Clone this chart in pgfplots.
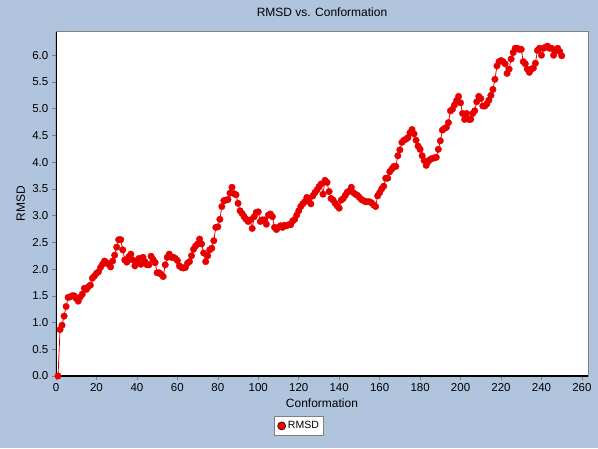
\documentclass[border=0pt]{standalone}
\usepackage{pgfplots}
\pgfplotsset{compat=1.18}
\usepackage{pgfplotstable}
\usepackage{fontspec}
\setmainfont{Liberation Sans}
\definecolor{bgblue}{RGB}{176,196,222}
\definecolor{plotred}{RGB}{232,0,0}
\pgfplotstableread{
x y
1 0.00
2 0.87
3 0.95
4 1.12
5 1.30
6 1.47
7 1.48
8 1.50
9 1.50
10 1.45
11 1.40
12 1.48
13 1.53
14 1.64
15 1.62
16 1.67
17 1.70
18 1.83
19 1.87
20 1.92
21 1.95
22 2.03
23 2.09
24 2.15
25 2.12
26 2.09
27 2.04
28 2.15
29 2.26
30 2.41
31 2.55
32 2.55
33 2.36
34 2.17
35 2.13
36 2.23
37 2.28
38 2.17
39 2.06
40 2.14
41 2.20
42 2.09
43 2.22
44 2.14
45 2.08
46 2.08
47 2.24
48 2.18
49 2.12
50 1.93
51 1.93
52 1.90
53 1.86
54 2.08
55 2.22
56 2.28
57 2.22
58 2.22
59 2.20
60 2.16
61 2.06
62 2.03
63 2.02
64 2.03
65 2.11
66 2.14
67 2.25
68 2.37
69 2.43
70 2.47
71 2.56
72 2.47
73 2.30
74 2.14
75 2.25
76 2.36
77 2.39
78 2.53
79 2.78
80 2.79
81 2.93
82 3.17
83 3.28
84 3.29
85 3.30
86 3.42
87 3.53
88 3.41
89 3.39
90 3.23
91 3.09
92 3.04
93 2.98
94 2.93
95 2.89
96 2.92
97 2.76
98 2.98
99 3.06
100 3.07
101 2.89
102 2.92
103 2.92
104 2.84
105 3.01
106 3.03
107 2.98
108 2.78
109 2.74
110 2.78
111 2.81
112 2.78
113 2.82
114 2.81
115 2.83
116 2.83
117 2.90
118 2.93
119 3.01
120 3.09
121 3.17
122 3.22
123 3.26
124 3.34
125 3.32
126 3.22
127 3.37
128 3.43
129 3.48
130 3.54
131 3.59
132 3.40
133 3.66
134 3.62
135 3.45
136 3.32
137 3.29
138 3.23
139 3.18
140 3.14
141 3.29
142 3.32
143 3.38
144 3.44
145 3.46
146 3.53
147 3.43
148 3.40
149 3.38
150 3.34
151 3.30
152 3.28
153 3.26
154 3.26
155 3.26
156 3.24
157 3.20
158 3.17
159 3.37
160 3.43
161 3.50
162 3.55
163 3.70
164 3.70
165 3.82
166 3.87
167 3.92
168 3.92
169 4.12
170 4.23
171 4.37
172 4.41
173 4.43
174 4.46
175 4.55
176 4.61
177 4.53
178 4.41
179 4.30
180 4.24
181 4.12
182 4.03
183 3.94
184 4.01
185 4.05
186 4.07
187 4.08
188 4.09
189 4.24
190 4.40
191 4.60
192 4.63
193 4.65
194 4.74
195 4.96
196 4.99
197 5.07
198 5.15
199 5.23
200 5.11
201 4.91
202 4.80
203 4.91
204 4.80
205 4.80
206 4.91
207 4.96
208 5.13
209 5.23
210 5.19
211 5.05
212 5.05
213 5.09
214 5.16
215 5.25
216 5.36
217 5.55
218 5.80
219 5.88
220 5.90
221 5.88
222 5.84
223 5.66
224 5.74
225 5.93
226 6.05
227 6.13
228 6.13
229 6.11
230 6.11
231 5.88
232 5.84
233 5.74
234 5.68
235 5.74
236 5.76
237 5.85
238 6.09
239 6.13
240 6.00
241 6.13
242 6.15
243 6.17
244 6.13
245 6.13
246 6.00
247 6.09
248 6.13
249 6.07
250 5.99
}\rmsddata
\begin{document}
\begin{tikzpicture}
\path[use as bounding box, fill=bgblue] (0,0) rectangle (598pt,448pt);
\begin{axis}[
  at={(56pt,72pt)}, anchor=south west,
  width=532pt, height=344.3pt, scale only axis,
  xmin=0, xmax=263, ymin=0, ymax=6.44,
  xtick={0,20,...,260},
  ytick={0,0.5,...,6.0},
  xtick pos=bottom, ytick pos=left,
  tick align=outside,
  major tick length=4pt,
  every tick/.style={gray, line width=0.6pt},
  axis background/.style={fill=white},
  axis line style={gray, line width=0.8pt},
  /pgf/number format/assume math mode=true,
  yticklabel style={/pgf/number format/fixed, /pgf/number format/fixed zerofill, /pgf/number format/precision=1},
  ticklabel style={font=\fontsize{11.5}{13}\selectfont},
  xticklabel style={inner sep=0pt, yshift=-3pt},
  yticklabel style={inner sep=0pt, xshift=-3.5pt},
  title={RMSD vs. Conformation},
  title style={at={(axis description cs:0.5,1)}, anchor=base, yshift=9.2pt, inner sep=0pt, font=\fontsize{12}{14}\selectfont},
  xlabel={Conformation},
  xlabel style={at={(axis description cs:0.5,0)}, anchor=base, yshift=-31.5pt, inner sep=0pt, font=\fontsize{12}{14}\selectfont},
  ylabel={RMSD},
  ylabel style={at={(axis description cs:-0.0583,0.5)}, anchor=base, inner sep=0pt, font=\fontsize{12}{14}\selectfont},
  legend style={at={(axis description cs:0.457,-0.145)}, anchor=center, draw=gray, line width=0.8pt, fill=white, font=\fontsize{10.5}{12}\selectfont, inner sep=3pt, row sep=0pt},
  clip=true,
]
\addplot[color=plotred, line width=0.8pt, mark=*, mark size=3.3pt, mark options={draw=plotred, fill=plotred, line width=0.3pt},
  legend image code/.code={\draw[fill=red, draw=black, line width=0.6pt] (0.35em,0pt) circle (4pt);}]
  table[x=x, y=y] {\rmsddata};
\addlegendentry{RMSD}
\draw[black, line width=2pt] (rel axis cs:0,1) -- (rel axis cs:0,0) -- (rel axis cs:1,0);
\end{axis}
\end{tikzpicture}
\end{document}
